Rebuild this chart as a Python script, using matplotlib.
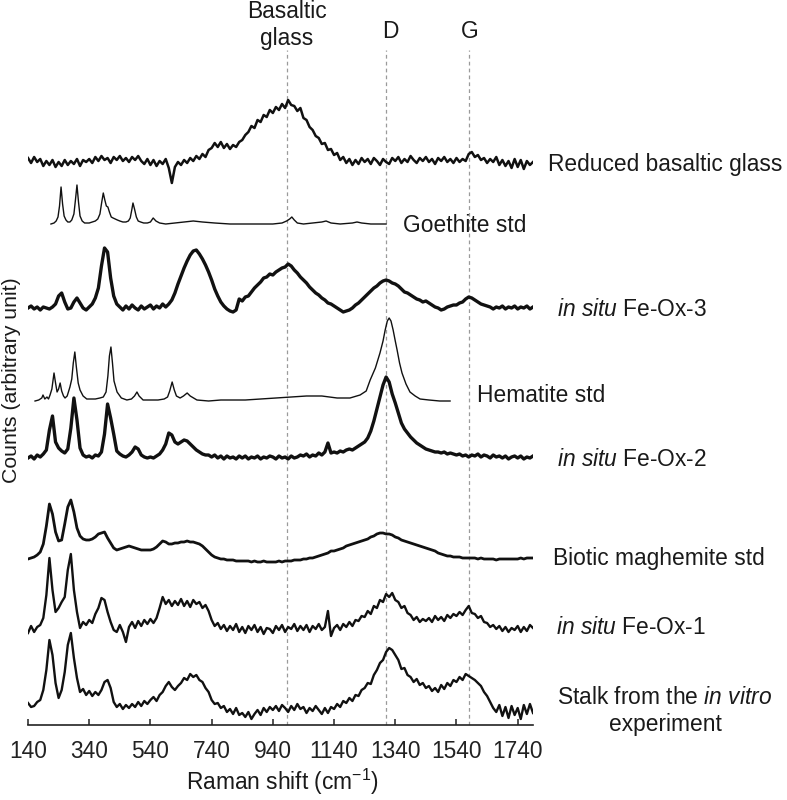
import numpy as np
import matplotlib
matplotlib.use("Agg")
import matplotlib.pyplot as plt

plt.rcParams['font.family'] = ['Liberation Sans', 'DejaVu Sans']
plt.rcParams['mathtext.fontset'] = 'custom'
plt.rcParams['mathtext.rm'] = 'Liberation Sans'
plt.rcParams['mathtext.it'] = 'Liberation Sans:italic'

# ---------------- data ----------------
# common wavenumber grid for the measured (noisy) spectra, cm-1
grid = np.arange(140, 1791, 10)

basaltic_glass = [
    4, -1, 5, 0, 3, -4, 1, -3, 2, -5,
    0, -4, 2, -3, 1, -2, 3, -4, 2, 0,
    3, -1, 5, 1, 6, 2, 4, -1, 5, 2,
    6, 1, 4, 0, 5, 2, 6, 1, -2, 3,
    -3, 2, -4, 1, -2, 3, -6, -21, -5, 0,
    -3, 2, -1, 4, 1, 6, 3, 8, 5, 12,
    14, 19, 15, 20, 14, 18, 13, 17, 15, 20,
    22, 27, 30, 36, 34, 42, 40, 47, 45, 52,
    49, 55, 52, 58, 54, 62, 57, 56, 51, 54,
    44, 42, 35, 32, 26, 24, 18, 19, 12, 13,
    7, 9, 2, 5, -1, 3, -3, 2, -2, 4,
    0, 3, -2, 4, 1, -3, 3, 0, -2, 4,
    1, 5, -1, 3, 0, 6, 2, -1, 4, 1,
    5, 0, 3, -2, 4, 1, 5, 0, 3, -1,
    4, 0, 3, 1, 8, 10, 5, 7, 2, 4,
    -1, 3, 0, 5, -3, 2, -4, 1, -6, 3,
    -5, 2, -7, 1, -3, 0]

fe_ox3 = [
    0, 2, -1, 1, -2, 1, 0, -1, 1, 4,
    12, 15, 6, -1, 0, 6, 10, 5, 0, -2,
    1, 4, 10, 20, 42, 60, 56, 30, 12, 4,
    1, -2, 2, -1, 3, 0, -2, 2, -1, 1,
    3, -1, 2, 0, 4, 1, 4, 8, 15, 24,
    32, 40, 47, 53, 57, 58, 54, 49, 43, 36,
    28, 19, 12, 6, 2, -1, -3, -4, -2, 9,
    7, 11, 12, 16, 20, 23, 26, 30, 31, 34,
    33, 36, 38, 40, 41, 44, 42, 38, 35, 31,
    28, 25, 21, 18, 15, 13, 10, 8, 5, 4,
    2, 0, -2, -4, -3, -2, 0, 3, 5, 8,
    11, 14, 17, 20, 22, 25, 27, 28, 27, 25,
    24, 22, 19, 16, 15, 13, 11, 9, 8, 6,
    7, 5, 3, 1, 0, -2, -1, 1, 2, 3,
    3, 5, 6, 9, 11, 10, 8, 6, 4, 3,
    2, 1, -1, 1, 0, 2, -1, 1, 0, 2,
    -1, 1, 0, 2, -1, 1]

fe_ox2 = [
    0, 2, -1, 3, 1, 4, 8, 28, 42, 16,
    10, 7, 5, 9, 30, 60, 38, 10, 3, 1,
    2, 0, 3, 2, 6, 24, 54, 40, 24, 7,
    4, 2, 1, 3, 6, 11, 9, 3, 1, 0,
    1, 0, 2, 4, 8, 14, 25, 23, 16, 14,
    16, 18, 17, 14, 11, 8, 6, 4, 3, 3,
    1, 3, 0, 2, -1, 2, 0, 1, -1, 2,
    0, 2, -1, 1, 0, 2, -1, 1, 0, 2,
    1, -1, 2, 0, 1, -1, 2, 0, 1, 3,
    2, 4, 1, 3, 2, 5, 3, 6, 15, 5,
    6, 5, 7, 6, 8, 9, 8, 10, 12, 14,
    16, 20, 27, 37, 49, 61, 73, 81, 76, 64,
    55, 45, 35, 29, 25, 21, 18, 15, 13, 11,
    9, 8, 7, 6, 6, 5, 6, 4, 5, 4,
    3, 4, 2, 3, 1, 3, 2, 4, 1, 3,
    2, 0, 3, 1, 2, 0, 2, -1, 1, 2,
    0, 2, -1, 1, 0, 2]

maghemite = [
    3, 4, 5, 7, 10, 18, 36, 58, 48, 30,
    21, 22, 38, 55, 62, 50, 34, 26, 23, 22,
    22, 23, 25, 28, 29, 30, 24, 19, 14, 12,
    13, 14, 15, 16, 15, 14, 13, 12, 12, 12,
    12, 13, 15, 18, 21, 20, 18, 18, 19, 19,
    20, 20, 21, 20, 20, 19, 18, 16, 13, 10,
    7, 5, 4, 3, 3, 2, 2, 2, 1, 1,
    1, 1, 1, 0, 1, 0, 0, 1, 0, 0,
    0, 0, 1, 0, 1, 1, 1, 2, 2, 2,
    3, 3, 4, 4, 5, 6, 7, 8, 9, 11,
    11, 12, 13, 14, 16, 17, 18, 19, 20, 21,
    22, 23, 25, 26, 28, 29, 29, 28, 28, 27,
    25, 24, 22, 21, 20, 19, 18, 17, 16, 15,
    14, 13, 12, 11, 9, 8, 7, 6, 6, 5,
    5, 5, 4, 4, 4, 4, 4, 3, 4, 3,
    3, 3, 3, 2, 3, 3, 3, 3, 3, 3,
    3, 4, 3, 4, 4, 4]

fe_ox1 = [
    -3, 4, -2, 3, 5, 12, 35, 72, 40, 18,
    22, 28, 33, 60, 76, 40, 18, 2, 8, 5,
    10, 7, 16, 22, 32, 30, 18, 8, 0, -2,
    5, -2, -12, 3, 8, 2, 9, 4, 10, 6,
    11, 7, 12, 22, 33, 26, 30, 24, 29, 25,
    31, 24, 29, 23, 30, 26, 28, 22, 25, 19,
    10, 4, 7, 1, 5, -1, 4, 0, 6, -2,
    3, -3, 4, 0, 5, -2, 3, -4, 2, 1,
    -3, 4, 0, 5, -2, 3, 1, 6, -1, 4,
    0, 5, -2, 4, 1, 6, 0, 3, 19, -6,
    2, 5, 0, 6, 3, 8, 4, 10, 9, 14,
    13, 19, 16, 24, 22, 30, 28, 36, 33, 37,
    30, 28, 22, 24, 17, 15, 10, 13, 8, 11,
    9, 12, 8, 14, 10, 13, 9, 15, 12, 16,
    14, 18, 15, 20, 24, 17, 16, 12, 14, 8,
    7, 3, 5, 1, 4, -1, 3, -2, 2, 0,
    4, -2, 3, -1, 5, 2]

stalk = [
    7, 3, 4, 8, 10, 20, 40, 70, 55, 27,
    12, 20, 38, 65, 77, 52, 32, 18, 21, 15,
    19, 14, 18, 15, 20, 28, 30, 22, 8, 3,
    6, 1, 5, 2, 6, 3, 8, 4, 9, 6,
    10, 13, 9, 15, 18, 24, 28, 23, 20, 24,
    27, 32, 30, 36, 33, 35, 30, 28, 22, 18,
    10, 6, 7, 2, 4, -2, 1, -4, 2, -5,
    -3, -7, -2, -9, -4, 0, -5, 2, -2, 3,
    0, 4, -1, 5, 2, -2, 4, 0, 6, 1,
    3, -3, 2, -1, 4, 0, -4, 2, -3, 3,
    1, 6, 3, 9, 7, 12, 9, 15, 14, 20,
    22, 27, 26, 35, 40, 47, 50, 58, 62, 60,
    55, 50, 41, 42, 35, 33, 28, 31, 25, 27,
    22, 24, 19, 22, 18, 25, 21, 27, 24, 30,
    28, 33, 30, 36, 34, 32, 30, 27, 24, 18,
    14, 8, 2, -2, 5, -6, 3, -8, 4, -5,
    2, -9, 5, -4, 6, -3]

# reference standards (own wavenumber axes)
goethite_x = [
    215, 225, 232, 238, 243, 248, 253, 258, 264, 270,
    277, 283, 290, 295, 300, 305, 310, 317, 325, 332,
    340, 350, 360, 368, 375, 381, 386, 391, 396, 401,
    406, 412, 418, 425, 432, 440, 450, 460, 468, 474,
    479, 483, 488, 494, 500, 508, 518, 530, 540, 549,
    558, 570, 590, 620, 650, 680, 710, 750, 800, 850,
    900, 940, 970, 985, 995, 1002, 1010, 1020, 1040, 1070,
    1100, 1114, 1130, 1160, 1200, 1215, 1230, 1260, 1290, 1310]
goethite_y = [
    0, 1, 3, 7, 18, 37, 20, 8, 4, 2,
    2, 4, 10, 24, 39, 22, 8, 3, 1, 1,
    1, 2, 3, 5, 10, 22, 31, 24, 18, 17,
    12, 7, 6, 5, 4, 3, 2, 2, 3, 6,
    14, 21, 15, 7, 3, 2, 1, 1, 2, 6,
    3, 1, 0, 1, 2, 3, 2, 1, 0, 0,
    0, 0, 1, 3, 5, 7, 4, 1, 0, 1,
    2, 3, 1, 0, 1, 2, 1, 0, 0, 0]

hematite_x = [
    163, 175, 185, 189, 195, 202, 207, 212, 218, 225,
    230, 235, 240, 245, 250, 256, 261, 268, 277, 283,
    288, 293, 298, 304, 310, 320, 332, 345, 360, 375,
    386, 395, 401, 406, 411, 416, 421, 431, 445, 463,
    478, 488, 496, 503, 516, 540, 565, 585, 596, 603,
    611, 618, 625, 637, 648, 660, 670, 692, 730, 770,
    810, 850, 900, 950, 1000, 1050, 1100, 1150, 1192, 1225,
    1245, 1258, 1275, 1290, 1300, 1307, 1314, 1320, 1326, 1333,
    1340, 1346, 1354, 1362, 1375, 1388, 1405, 1421, 1450, 1485,
    1519]
hematite_y = [
    0, 1, 3, 6, 2, 4, 2, 6, 12, 28,
    18, 9, 12, 18, 10, 5, 3, 5, 14, 22,
    38, 49, 34, 18, 11, 5, 2, 2, 2, 3,
    4, 9, 25, 45, 54, 38, 20, 9, 3, 1,
    2, 5, 9, 5, 1, 1, 1, 2, 4, 10,
    19, 11, 5, 3, 5, 8, 5, 1, 0, 1,
    1, 1, 2, 3, 4, 5, 5, 3, 3, 6,
    10, 21, 33, 48, 60, 71, 80, 83, 80, 71,
    60, 51, 38, 28, 17, 9, 5, 2, 1, 0,
    0]

labels = ["Reduced basaltic glass", "Goethite std", "in situ Fe-Ox-3", "Hematite std",
          "in situ Fe-Ox-2", "Biotic maghemite std", "in situ Fe-Ox-1",
          "Stalk from the in vitro experiment"]
offsets = [563, 501, 417, 324, 267, 163, 95, 15]
band_positions = [985, 1310, 1580]
xticks = [140, 340, 540, 740, 940, 1140, 1340, 1540, 1740]

# ---------------- figure ----------------
W, H = 787, 800
FS = 16.4
fig = plt.figure(figsize=(W / 100, H / 100), dpi=100)
ax = fig.add_axes([28 / W, 75 / H, 505 / W, 725 / H])
ax.set_xlim(140, 1790)
ax.set_ylim(0, 725)

for xb in band_positions:
    ax.plot([xb, xb], [0, 675], color='#9a9a9a', lw=0.9, ls=(0, (3, 2.5)), zorder=1)

series = [
    (grid, basaltic_glass, offsets[0], 1.8),
    (goethite_x, goethite_y, offsets[1], 1.0),
    (grid, fe_ox3, offsets[2], 2.4),
    (hematite_x, hematite_y, offsets[3], 1.0),
    (grid, fe_ox2, offsets[4], 2.4),
    (grid, maghemite, offsets[5], 2.0),
    (grid, fe_ox1, offsets[6], 1.7),
    (grid, stalk, offsets[7], 1.7),
]
for xs, ys, off, lw in series:
    xs = np.asarray(xs, dtype=float)
    ys = np.asarray(ys, dtype=float)
    if len(xs) != len(ys):
        raise ValueError("length mismatch %d %d" % (len(xs), len(ys)))
    ax.plot(xs, ys + off, color='#111111', lw=lw, solid_joinstyle='round', zorder=2)

for s in ['left', 'right', 'top']:
    ax.spines[s].set_visible(False)
ax.spines['bottom'].set_linewidth(1.2)
ax.spines['bottom'].set_color('#222222')
ax.set_yticks([])
ax.set_xticks(xticks)
ax.set_xticklabels([str(t) for t in xticks])
ax.tick_params(axis='x', direction='in', length=4, width=1.1, pad=11,
               labelsize=FS, colors='#222222')


def ftext(x, y, s, **kw):
    kw.setdefault('fontsize', FS)
    kw.setdefault('color', '#1a1a1a')
    kw.setdefault('va', 'center')
    fig.text(x / W, 1 - y / H, s, **kw)


# band labels
ftext(287, 12, "Basaltic", ha='center')
ftext(287, 39, "glass", ha='center')
ftext(390, 32, "D", ha='center')
ftext(470, 32, "G", ha='center')

# spectrum labels
ftext(548, 165, labels[0])
ftext(403, 225, labels[1])
ftext(557, 310, r"$\mathit{in\ situ}$ Fe-Ox-3")
ftext(477, 395, labels[3])
ftext(557, 460, r"$\mathit{in\ situ}$ Fe-Ox-2")
ftext(553, 558, labels[5])
ftext(556, 628, r"$\mathit{in\ situ}$ Fe-Ox-1")
ftext(664, 698, r"Stalk from the $\mathit{in\ vitro}$", ha='center')
ftext(665, 725, "experiment", ha='center')

# axis titles
ftext(282, 782, r"Raman shift (cm$^{\mathregular{-1}}$)", ha='center')
ftext(12, 380, "Counts (arbitrary unit)", ha='center', rotation=90, fontsize=15.3)

fig.savefig("out.png", dpi=100)
